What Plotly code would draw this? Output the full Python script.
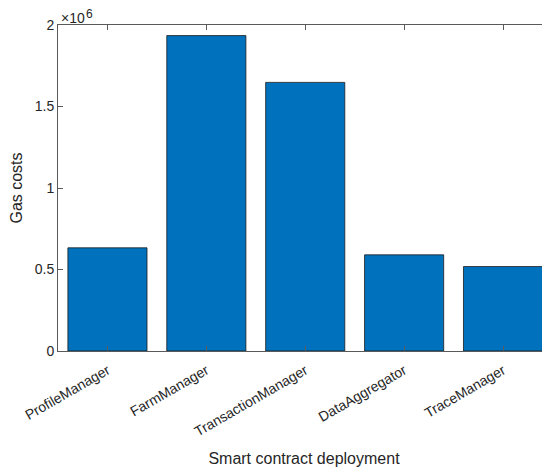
import plotly.graph_objects as go

categories = ["ProfileManager", "FarmManager", "TransactionManager", "DataAggregator", "TraceManager"]
gas_costs = [633000, 1935000, 1648000, 590000, 518000]
y_tick_values = [0, 500000, 1000000, 1500000, 2000000]
y_tick_labels = ["0", "0.5", "1", "1.5", "2"]

FONT = "Liberation Sans, Arial, Helvetica, sans-serif"
AXC = "#5a5a5a"
TXT = "#262626"

fig = go.Figure(
    go.Bar(
        x=categories,
        y=gas_costs,
        width=0.8,
        marker=dict(color="#0072BD", line=dict(color="#1a1a1a", width=0.8)),
    )
)

fig.update_layout(
    width=542,
    height=464,
    margin=dict(l=50, r=0, t=17, b=121, autoexpand=False),
    paper_bgcolor="white",
    plot_bgcolor="white",
    font=dict(family=FONT, size=14, color=TXT),
    showlegend=False,
    annotations=[
        dict(
            text="×10",
            xref="paper", yref="paper", x=0.0, y=1.0,
            xanchor="left", yanchor="middle", showarrow=False,
            font=dict(family=FONT, size=14, color=TXT),
            xshift=1, yshift=7,
        ),
        dict(
            text="6",
            xref="paper", yref="paper", x=0.0, y=1.0,
            xanchor="left", yanchor="middle", showarrow=False,
            font=dict(family=FONT, size=12, color=TXT),
            xshift=26, yshift=11,
        ),
    ],
)

fig.update_xaxes(
    type="category",
    range=[-0.5, 4.475],
    automargin=False,
    showline=True, linecolor=AXC, linewidth=1,
    mirror="ticks",
    ticks="inside", ticklen=5, tickcolor=AXC,
    tickangle=-30,
    ticklabelstandoff=5,
    showgrid=False, zeroline=False,
    tickfont=dict(size=14),
    title=dict(text="Smart contract deployment", font=dict(size=16), standoff=14),
)

fig.update_yaxes(
    range=[0, 2000000],
    automargin=False,
    tickvals=y_tick_values, ticktext=y_tick_labels,
    showline=True, linecolor=AXC, linewidth=1,
    ticks="inside", ticklen=5, tickcolor=AXC,
    showgrid=False, zeroline=False,
    tickfont=dict(size=14),
    title=dict(text="Gas costs", font=dict(size=16), standoff=8),
)

fig.write_html("out.html")
